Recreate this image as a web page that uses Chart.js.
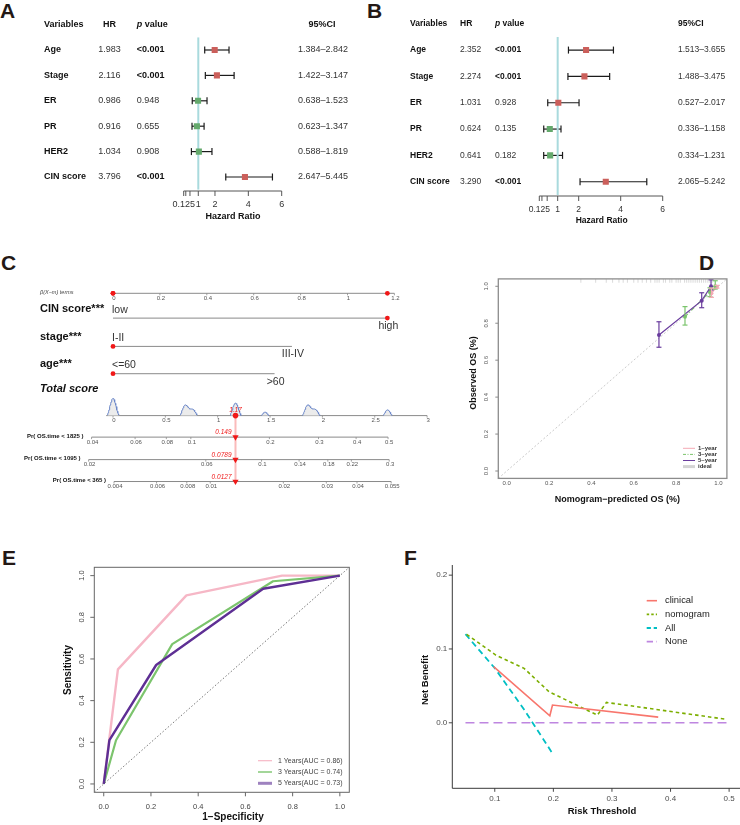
<!DOCTYPE html>
<html>
<head>
<meta charset="utf-8">
<script src="https://cdn.jsdelivr.net/npm/chart.js@4.4.1/dist/chart.umd.min.js"></script>
<style>
  html, body { margin: 0; padding: 0; background: #fff; }
  body { position: relative; width: 740px; height: 825px; overflow: hidden; }
  canvas { position: absolute; }
  .tag { position: absolute; font: bold 21px/21px "Liberation Sans", Arial, sans-serif; color: #231815; }
</style>
</head>
<body>
<div class="tag" style="left:0px;top:0px">A</div>
<div class="tag" style="left:367px;top:0px">B</div>
<div class="tag" style="left:1px;top:252px">C</div>
<div class="tag" style="left:699px;top:252px">D</div>
<div class="tag" style="left:2px;top:547px">E</div>
<div class="tag" style="left:404px;top:547px">F</div>
<canvas id="forestA" width="370" height="235" style="left:0;top:0"></canvas>
<canvas id="forestB" width="370" height="235" style="left:370px;top:0"></canvas>
<canvas id="nomo" width="440" height="230" style="left:0;top:270px"></canvas>
<canvas id="calib" width="300" height="245" style="left:440px;top:270px"></canvas>
<canvas id="roc" width="370" height="285" style="left:0;top:540px"></canvas>
<canvas id="dca" width="375" height="285" style="left:370px;top:540px"></canvas>
<script>
// ---- data: A (univariate Cox) ----
const varsA = ['Age', 'Stage', 'ER', 'PR', 'HER2', 'CIN score'];
const hrA = [1.983, 2.116, 0.986, 0.916, 1.034, 3.796];
const pA = ['<0.001', '<0.001', '0.948', '0.655', '0.908', '<0.001'];
const loA = [1.384, 1.422, 0.638, 0.623, 0.588, 2.647];
const hiA = [2.842, 3.147, 1.523, 1.347, 1.819, 5.445];

// ---- data: B (multivariate Cox) ----
const varsB = ['Age', 'Stage', 'ER', 'PR', 'HER2', 'CIN score'];
const hrB = [2.352, 2.274, 1.031, 0.624, 0.641, 3.290];
const pB = ['<0.001', '<0.001', '0.928', '0.135', '0.182', '<0.001'];
const loB = [1.513, 1.488, 0.527, 0.336, 0.334, 2.065];
const hiB = [3.655, 3.475, 2.017, 1.158, 1.231, 5.242];

const hrTicks = [0.125, 0.25, 0.5, 1, 2, 4, 6];
const hrTickLabels = ['0.125', '', '', '1', '2', '4', '6'];

// ---- data: C (nomogram) ----
const nomoVars = ['CIN score***', 'stage***', 'age***'];
const nomoLevels = [['low', 'high'], ['I-II', 'III-IV'], ['<=60', '>60']];
const nomoBeta = [1.17, 0.763, 0.689];
const nomoPatient = [1, 0, 0];
const betaTicks = [0, 0.2, 0.4, 0.6, 0.8, 1, 1.2];
const scoreTicks = [0, 0.5, 1, 1.5, 2, 2.5, 3];
const comboCounts = [18, 14, 8, 8, 12, 12, 6, 8]; // patients per level combination (bit0 CIN, bit1 stage, bit2 age)
const survDays = [1825, 1095, 365];
const baseHaz = [0.0501, 0.0255, 0.00397];
const probTicks = [
  [0.04, 0.06, 0.08, 0.1, 0.2, 0.3, 0.4, 0.5],
  [0.02, 0.06, 0.1, 0.14, 0.18, 0.22, 0.3],
  [0.004, 0.006, 0.008, 0.01, 0.02, 0.03, 0.04, 0.055]
];

// ---- data: D (calibration) ----
const calLabels = ['1\u2013year', '3\u2013year', '5\u2013year'];
const calPred1 = [0.967, 0.993], calObs1 = [0.962, 0.998], calLo1 = [0.94, 0.99], calHi1 = [0.99, 1.005];
const calPred3 = [0.842, 0.960, 0.985], calObs3 = [0.835, 0.971, 1.0], calLo3 = [0.79, 0.944, 0.985], calHi3 = [0.89, 0.992, 1.03];
const calPred5 = [0.719, 0.921, 0.965], calObs5 = [0.736, 0.922, 1.0], calLo5 = [0.670, 0.884, 0.98], calHi5 = [0.808, 0.965, 1.035];
const predRug = [0.35, 0.42, 0.47, 0.5, 0.53, 0.55, 0.57, 0.6, 0.62, 0.64, 0.66, 0.68, 0.7, 0.71, 0.72, 0.74, 0.75,
  0.77, 0.78, 0.8, 0.81, 0.82, 0.84, 0.85, 0.86, 0.87, 0.88, 0.89, 0.9, 0.91, 0.92, 0.93, 0.94, 0.95, 0.96, 0.97];
const calTicks = [0, 0.2, 0.4, 0.6, 0.8, 1];

// ---- data: E (time-dependent ROC) ----
const rocYears = [1, 3, 5];
const rocAuc = [0.86, 0.74, 0.73];
const fpr1 = [0, 0.06, 0.35, 0.755, 1], tpr1 = [0, 0.55, 0.905, 1, 1];
const fpr3 = [0, 0.052, 0.29, 0.717, 1], tpr3 = [0, 0.21, 0.671, 0.973, 1];
const fpr5 = [0, 0.024, 0.222, 0.675, 1], tpr5 = [0, 0.21, 0.571, 0.937, 1];

// ---- data: F (decision curve) ----
const dcaNames = ['clinical', 'nomogram', 'All', 'None'];
const clinX = [0.098, 0.194, 0.1985, 0.379], clinY = [0.076, 0.0095, 0.024, 0.0077];
const nomoX = [0.052, 0.1017, 0.15, 0.1927, 0.2752, 0.2906, 0.4925], nomoY = [0.1198, 0.0917, 0.0737, 0.042, 0.0104, 0.0276, 0.005];
const allX = [0.05, 0.1, 0.15, 0.1985], allY = [0.12, 0.074, 0.018, -0.0415];
const noneX = [0.05, 0.5], noneY = [0, 0];
const dcaXTicks = [0.1, 0.2, 0.3, 0.4, 0.5];
const dcaYTicks = [0, 0.1, 0.2];

// ---------------------------------------------------------------
const FONT = '"Liberation Sans", Arial, Helvetica, sans-serif';
Chart.defaults.font.family = FONT;
Chart.defaults.animation = false;
Chart.defaults.responsive = false;
Chart.defaults.maintainAspectRatio = false;
Chart.defaults.events = [];
Chart.defaults.plugins.legend.display = false;
Chart.defaults.plugins.tooltip.enabled = false;

const RED = '#CB5F5B', GREEN = '#64A96C';

function xy(xs, ys) { return xs.map((v, i) => ({ x: v, y: ys[i] })); }

function put(ctx, s, x, y, font, color, align, rot) {
  ctx.save();
  ctx.font = font;
  ctx.fillStyle = color || '#222';
  ctx.textAlign = align || 'left';
  ctx.textBaseline = 'middle';
  ctx.translate(x, y);
  if (rot) ctx.rotate(rot);
  ctx.fillText(s, 0, 0);
  ctx.restore();
}

function seg(ctx, x1, y1, x2, y2, color, w, dash) {
  ctx.save();
  ctx.strokeStyle = color; ctx.lineWidth = w || 1;
  ctx.setLineDash(dash || []);
  ctx.beginPath(); ctx.moveTo(x1, y1); ctx.lineTo(x2, y2); ctx.stroke();
  ctx.restore();
}

// ---------- A / B forest plots ----------
function forestChart(id, d, L) {
  const n = d.vars.length;
  return new Chart(document.getElementById(id), {
    type: 'scatter',
    data: { datasets: [
      { data: xy(d.hr, d.vars.map((v, i) => i)), pointStyle: 'rect', pointRadius: L.box,
        pointBackgroundColor: d.colors, pointBorderWidth: 0 },
      { type: 'line', data: [{ x: 1, y: -0.5 }, { x: 1, y: n - 0.5 }],
        borderColor: '#A9DADD', borderWidth: 2, pointRadius: 0 }
    ]},
    options: {
      layout: { padding: L.pad },
      scales: {
        x: { type: 'linear', min: hrTicks[0], max: hrTicks[hrTicks.length - 1], display: false },
        y: { type: 'linear', min: -0.5, max: n - 0.5, reverse: true, display: false }
      }
    },
    plugins: [{
      id: 'forestParts',
      beforeDatasetsDraw(chart) {
        const { ctx, scales: { x, y } } = chart;
        d.lo.forEach((lo, i) => {
          const x1 = x.getPixelForValue(lo), x2 = x.getPixelForValue(d.hi[i]), py = y.getPixelForValue(i);
          seg(ctx, x1, py, x2, py, '#1b1b1b', 1.2);
          seg(ctx, x1, py - 3.5, x1, py + 3.5, '#1b1b1b', 1.2);
          seg(ctx, x2, py - 3.5, x2, py + 3.5, '#1b1b1b', 1.2);
        });
      },
      afterDraw(chart) {
        const { ctx, chartArea: a, scales: { x, y } } = chart;
        const fs = L.fs, b = `bold ${fs}px ${FONT}`, r = `${fs}px ${FONT}`;
        // header
        put(ctx, 'Variables', L.cVar, L.headY, b, '#111');
        put(ctx, 'HR', L.cHR, L.headY, b, '#111', L.hrAlign);
        ctx.save();
        ctx.font = `italic bold ${fs}px ${FONT}`;
        const pw = ctx.measureText('p').width;
        ctx.restore();
        put(ctx, 'p', L.cP, L.headY, `italic bold ${fs}px ${FONT}`, '#111');
        put(ctx, ' value', L.cP + pw, L.headY, b, '#111');
        put(ctx, '95%CI', L.cCIHead, L.headY, b, '#111', L.ciAlign);
        // rows
        d.vars.forEach((v, i) => {
          const py = y.getPixelForValue(i);
          put(ctx, v, L.cVar, py, b, '#111');
          put(ctx, d.hr[i].toFixed(3), L.cHR, py, r, '#333', L.hrAlign);
          put(ctx, d.p[i], L.cP, py, d.p[i][0] === '<' ? b : r, d.p[i][0] === '<' ? '#111' : '#333');
          put(ctx, d.lo[i].toFixed(3) + '\u2013' + d.hi[i].toFixed(3), L.cCI, py, r, '#333', L.ciAlign);
        });
        // hazard ratio axis
        const ay = L.axisY;
        seg(ctx, x.getPixelForValue(hrTicks[0]), ay, x.getPixelForValue(hrTicks[hrTicks.length - 1]), ay, '#555', 1);
        hrTicks.forEach((t, i) => {
          const px = x.getPixelForValue(t);
          seg(ctx, px, ay, px, ay + 5, '#555', 1);
          if (hrTickLabels[i]) put(ctx, hrTickLabels[i], px, L.tickY, r, '#333', 'center');
        });
        put(ctx, 'Hazard Ratio', L.titleX, L.titleY, b, '#111', 'center');
      }
    }]
  });
}

forestChart('forestA',
  { vars: varsA, hr: hrA, p: pA, lo: loA, hi: hiA, colors: [RED, RED, GREEN, GREEN, GREEN, RED] },
  { pad: { left: 183.7, right: 88.3, top: 37.3, bottom: 45.3 }, box: 4.3, fs: 9,
    headY: 25, cVar: 44, cHR: 109.5, hrAlign: 'center', cP: 136.7, cCIHead: 322, cCI: 323, ciAlign: 'center',
    axisY: 191, tickY: 205, titleX: 233, titleY: 217 });

forestChart('forestB',
  { vars: varsB, hr: hrB, p: pB, lo: loB, hi: hiB, colors: [RED, RED, RED, GREEN, GREEN, RED] },
  { pad: { left: 169.3, right: 77.3, top: 36.9, bottom: 40.1 }, box: 4.3, fs: 8.5,
    headY: 24, cVar: 40, cHR: 90, hrAlign: 'left', cP: 125, cCIHead: 308, cCI: 308, ciAlign: 'left',
    axisY: 196, tickY: 210, titleX: 231.7, titleY: 221 });

// ---------- C nomogram ----------
const NOMO = { w: 440, px0: 113, betaPx: 234.5, scorePx: 104.7, left: 85, right: 432, labelX: 40,
  rowBeta: 20, rowVar: [45.7, 75, 103.3], rowScore: 146.7, rowProb: [169, 192.3, 215] };

const scoreForProb = (p, k) => Math.log(-Math.log(1 - p) / baseHaz[k]);
const probForScore = (s, k) => 1 - Math.exp(-baseHaz[k] * Math.exp(s));
const patientContrib = nomoBeta.map((b, j) => b * nomoPatient[j]);
const patientScore = patientContrib.reduce((s, v) => s + v, 0);

const comboScores = comboCounts.map((c, m) => nomoBeta.reduce((s, b, j) => s + ((m >> j) & 1 ? b : 0), 0));
const kdeBw = 0.03, kdeCut = 3, kdeScale = 1.18;
const densityPts = [];
for (let s = -0.15; s <= 2.9; s += 0.004) {
  let dd = 0;
  comboScores.forEach((c, i) => { dd += comboCounts[i] * Math.exp(-((s - c) ** 2) / (2 * kdeBw * kdeBw)); });
  densityPts.push({ x: s, y: dd > kdeCut ? NOMO.rowScore - kdeScale * (dd - kdeCut) : null });
}

const nomoDatasets = [
  { type: 'line', xAxisID: 'x2', data: NOMO.rowProb.map(r => ({ x: patientScore, y: r })),
    showLine: false, pointStyle: 'triangle', rotation: 180, pointRadius: 3.6, pointBackgroundColor: '#F01818', pointBorderWidth: 0 },
  { type: 'line', xAxisID: 'x2', data: [{ x: patientScore, y: NOMO.rowScore }], showLine: false,
    pointRadius: 2.8, pointBackgroundColor: '#F01818', pointBorderWidth: 0 },
  { type: 'line', xAxisID: 'x', data: [
      ...patientContrib.map(c => ({ x: c, y: NOMO.rowBeta })),
      ...nomoPatient.map((lv, j) => ({ x: lv * nomoBeta[j], y: NOMO.rowVar[j] }))],
    showLine: false, pointRadius: 2.4, pointBackgroundColor: '#F01818', pointBorderWidth: 0 },
  { type: 'line', xAxisID: 'x2', data: [{ x: patientScore, y: NOMO.rowScore }, { x: patientScore, y: NOMO.rowProb[2] }],
    borderColor: 'rgba(240,60,60,0.35)', borderWidth: 2, pointRadius: 0 },
  { type: 'line', xAxisID: 'x2', data: densityPts, borderColor: '#6A86C8', borderWidth: 1,
    backgroundColor: '#ECECEC', fill: { value: NOMO.rowScore }, pointRadius: 0, spanGaps: false }
];
nomoBeta.forEach((b, j) => nomoDatasets.push({ type: 'line', xAxisID: 'x',
  data: [{ x: 0, y: NOMO.rowVar[j] }, { x: b, y: NOMO.rowVar[j] }], borderColor: '#8a8a8a', borderWidth: 1, pointRadius: 0 }));

new Chart(document.getElementById('nomo'), {
  type: 'scatter',
  data: { datasets: nomoDatasets },
  options: {
    layout: { padding: { left: NOMO.left, right: NOMO.w - NOMO.right, top: 0, bottom: 0 } },
    scales: {
      x: { type: 'linear', display: false, min: (NOMO.left - NOMO.px0) / NOMO.betaPx, max: (NOMO.right - NOMO.px0) / NOMO.betaPx },
      x2: { type: 'linear', display: false, min: (NOMO.left - NOMO.px0) / NOMO.scorePx, max: (NOMO.right - NOMO.px0) / NOMO.scorePx },
      y: { type: 'linear', display: false, min: 0, max: 230, reverse: true }
    }
  },
  plugins: [{
    id: 'nomoAxes',
    beforeDatasetsDraw(chart) {
      const { ctx, scales: { x, x2, y } } = chart;
      const tick = `6px ${FONT}`, grey = '#8a8a8a';
      const yb = y.getPixelForValue(NOMO.rowBeta);
      put(ctx, '\u03b2(X\u2212m) terms', NOMO.labelX, yb - 1, `italic 5.5px ${FONT}`, '#444');
      seg(ctx, x.getPixelForValue(0), yb, x.getPixelForValue(betaTicks[betaTicks.length - 1]), yb, grey, 1);
      betaTicks.forEach(t => {
        const px = x.getPixelForValue(t);
        seg(ctx, px, yb, px, yb + 2, grey, 0.8);
        put(ctx, String(t), px + 1, yb + 5, tick, '#555', 'center');
      });
      nomoVars.forEach((v, j) => {
        const py = y.getPixelForValue(NOMO.rowVar[j]);
        put(ctx, v, NOMO.labelX, py - 9.5, `bold 11px ${FONT}`, '#111');
        put(ctx, nomoLevels[j][0], x.getPixelForValue(0) - 1, py - 8.5, `10.5px ${FONT}`, '#333');
        put(ctx, nomoLevels[j][1], x.getPixelForValue(nomoBeta[j]) + 1, py + 8, `10.5px ${FONT}`, '#333', 'center');
      });
      const ys = y.getPixelForValue(NOMO.rowScore);
      put(ctx, 'Total score', NOMO.labelX, y.getPixelForValue(119), `italic bold 11px ${FONT}`, '#111');
      seg(ctx, x2.getPixelForValue(-0.065), ys, x2.getPixelForValue(scoreTicks[scoreTicks.length - 1]), ys, grey, 1);
      scoreTicks.forEach(t => {
        const px = x2.getPixelForValue(t);
        seg(ctx, px, ys, px, ys + 2, grey, 0.8);
        put(ctx, String(t), px + 1, ys + 5, tick, '#555', 'center');
      });
      survDays.forEach((d, k) => {
        const py = y.getPixelForValue(NOMO.rowProb[k]);
        const t0 = probTicks[k][0], t1 = probTicks[k][probTicks[k].length - 1];
        const x0 = x2.getPixelForValue(scoreForProb(t0, k));
        seg(ctx, x0, py, x2.getPixelForValue(scoreForProb(t1, k)), py, grey, 1);
        probTicks[k].forEach(t => {
          const px = x2.getPixelForValue(scoreForProb(t, k));
          seg(ctx, px, py, px, py + 2, grey, 0.8);
          put(ctx, String(t), px + 1, py + 5, tick, '#555', 'center');
        });
        put(ctx, 'Pr( OS.time < ' + d + ' )', x0 - 8, py - 1, `bold 6px ${FONT}`, '#111', 'right');
      });
    },
    afterDatasetsDraw(chart) {
      const { ctx, scales: { x2, y } } = chart;
      const px = x2.getPixelForValue(patientScore);
      put(ctx, patientScore.toFixed(2), px, y.getPixelForValue(NOMO.rowScore) - 5, `italic 6.5px ${FONT}`, '#F01818', 'center');
      survDays.forEach((d, k) => {
        const p = probForScore(patientScore, k);
        put(ctx, p.toPrecision(3), px - 4, y.getPixelForValue(NOMO.rowProb[k]) - 4.5, `italic 6.5px ${FONT}`, '#F01818', 'right');
      });
    }
  }]
});

// ---------- D calibration ----------
const PINK = '#F4A9B5', LGREEN = '#7BC46C', PURPLE = '#6A3D9E';
const calSeries = [
  { pred: calPred5, obs: calObs5, lo: calLo5, hi: calHi5, color: PURPLE, dash: [], w: 1.2 },
  { pred: calPred3, obs: calObs3, lo: calLo3, hi: calHi3, color: LGREEN, dash: [4, 2, 1, 2], w: 1.2 },
  { pred: calPred1, obs: calObs1, lo: calLo1, hi: calHi1, color: PINK, dash: [], w: 1.2 }
];
new Chart(document.getElementById('calib'), {
  type: 'scatter',
  data: { datasets: [
    ...calSeries.map(s => ({ type: 'line', data: xy(s.pred, s.obs), borderColor: s.color, borderWidth: s.w,
      borderDash: s.dash, pointRadius: 2, pointBackgroundColor: s.color, pointBorderWidth: 0 })),
    { data: predRug.map(v => ({ x: v, y: 1.03 })), pointStyle: 'line', rotation: 90, pointRadius: 2,
      pointBorderColor: 'rgba(150,150,150,0.45)', pointBorderWidth: 0.8 },
    { type: 'line', data: [{ x: -0.04, y: -0.04 }, { x: 1.04, y: 1.04 }], borderColor: '#C4C4C4',
      borderWidth: 0.9, borderDash: [2, 2], pointRadius: 0 }
  ]},
  options: {
    layout: { padding: { left: 58.3, right: 13.1, top: 8.9, bottom: 36.6 } },
    scales: {
      x: { type: 'linear', min: -0.04, max: 1.04, display: false },
      y: { type: 'linear', min: -0.04, max: 1.04, display: false }
    }
  },
  plugins: [{
    id: 'calibParts',
    afterDatasetsDraw(chart) {
      const { ctx, chartArea: a, scales: { x, y } } = chart;
      calSeries.forEach(s => s.pred.forEach((p, i) => {
        const px = x.getPixelForValue(p), y1 = y.getPixelForValue(s.lo[i]), y2 = y.getPixelForValue(s.hi[i]);
        seg(ctx, px, y1, px, y2, s.color, 1.2);
        seg(ctx, px - 2.5, y1, px + 2.5, y1, s.color, 1.2);
        seg(ctx, px - 2.5, y2, px + 2.5, y2, s.color, 1.2);
      }));
      ctx.save();
      ctx.strokeStyle = '#8c8c8c'; ctx.lineWidth = 1.3;
      ctx.strokeRect(a.left, a.top, a.right - a.left, a.bottom - a.top);
      ctx.restore();
      const tf = `6px ${FONT}`;
      calTicks.forEach(t => {
        const px = x.getPixelForValue(t), py = y.getPixelForValue(t);
        put(ctx, t.toFixed(1), px, a.bottom + 4.5, tf, '#555', 'center');
        seg(ctx, a.left, py, a.left - 3, py, '#8c8c8c', 1);
        put(ctx, t.toFixed(1), a.left - 11.6, py, tf, '#555', 'center', -Math.PI / 2);
      });
      put(ctx, 'Nomogram\u2212predicted OS (%)', 177.3, 230, `bold 9px ${FONT}`, '#111', 'center');
      put(ctx, 'Observed OS (%)', 34, 103, `bold 9px ${FONT}`, '#111', 'center', -Math.PI / 2);
      const leg = [
        { t: calLabels[0], c: PINK, d: [], w: 1 },
        { t: calLabels[1], c: LGREEN, d: [3, 1.5, 1, 1.5], w: 1 },
        { t: calLabels[2], c: PURPLE, d: [], w: 1 },
        { t: 'ideal', c: '#D4D4D4', d: [], w: 3 }
      ];
      leg.forEach((e, i) => {
        const py = 178.3 + i * 6.1;
        seg(ctx, 243, py, 255, py, e.c, e.w, e.d);
        put(ctx, e.t, 258, py, `bold 6px ${FONT}`, '#333');
      });
    }
  }]
});

// ---------- E ROC ----------
const ROC_PINK = '#F6B7C6', ROC_GREEN = '#7CC46D', ROC_PURPLE = '#5E2F94';
const rocSeries = [
  { fpr: fpr1, tpr: tpr1, color: ROC_PINK, w: 2.4 },
  { fpr: fpr3, tpr: tpr3, color: ROC_GREEN, w: 2.2 },
  { fpr: fpr5, tpr: tpr5, color: ROC_PURPLE, w: 2.4 }
];
new Chart(document.getElementById('roc'), {
  type: 'scatter',
  data: { datasets: [
    ...rocSeries.slice().reverse().map(s => ({ type: 'line', data: xy(s.fpr, s.tpr), borderColor: s.color,
      borderWidth: s.w, pointRadius: 0, borderJoinStyle: 'round' })),
    { type: 'line', data: [{ x: -0.04, y: -0.04 }, { x: 1.04, y: 1.04 }], borderColor: '#555',
      borderWidth: 0.8, borderDash: [1.5, 2], pointRadius: 0 }
  ]},
  options: {
    layout: { padding: { left: 94.3, right: 20.7, top: 27.3, bottom: 32.7 } },
    scales: {
      x: { type: 'linear', min: -0.04, max: 1.04, display: false },
      y: { type: 'linear', min: -0.04, max: 1.04, display: false }
    }
  },
  plugins: [{
    id: 'rocParts',
    afterDraw(chart) {
      const { ctx, chartArea: a, scales: { x, y } } = chart;
      ctx.save();
      ctx.strokeStyle = '#666'; ctx.lineWidth = 1;
      ctx.strokeRect(a.left, a.top, a.right - a.left, a.bottom - a.top);
      ctx.restore();
      const tf = `7.5px ${FONT}`;
      calTicks.forEach(t => {
        const px = x.getPixelForValue(t), py = y.getPixelForValue(t);
        seg(ctx, px, a.bottom, px, a.bottom + 4, '#666', 1);
        put(ctx, t.toFixed(1), px, a.bottom + 14.4, tf, '#444', 'center');
        seg(ctx, a.left, py, a.left - 4, py, '#666', 1);
        put(ctx, t.toFixed(1), a.left - 12.6, py, tf, '#444', 'center', -Math.PI / 2);
      });
      put(ctx, '1\u2212Specificity', 233, 277.3, `bold 10px ${FONT}`, '#111', 'center');
      put(ctx, 'Sensitivity', 68.3, 130, `bold 10px ${FONT}`, '#111', 'center', -Math.PI / 2);
      const legW = [1.2, 1.4, 3];
      rocSeries.forEach((s, i) => {
        const py = 220.7 + i * 11.3;
        ctx.save(); ctx.globalAlpha = i === 2 ? 0.6 : 1;
        seg(ctx, 258, py, 272, py, s.color, legW[i]);
        ctx.restore();
        put(ctx, rocYears[i] + ' Years(AUC = ' + rocAuc[i].toFixed(2) + ')', 278, py, `7px ${FONT}`, '#444');
      });
    }
  }]
});

// ---------- F decision curve ----------
const dcaSeries = [
  { x: clinX, y: clinY, color: '#F8766D', dash: [], w: 1.6 },
  { x: nomoX, y: nomoY, color: '#7CAE00', dash: [3.5, 3], w: 1.6 },
  { x: allX, y: allY, color: '#00BFC4', dash: [6, 4], w: 1.8 },
  { x: noneX, y: noneY, color: '#BE86E0', dash: [9, 5], w: 1.6 }
];
new Chart(document.getElementById('dca'), {
  type: 'scatter',
  data: { datasets: dcaSeries.map(s => ({ type: 'line', data: xy(s.x, s.y), borderColor: s.color,
    borderWidth: s.w, borderDash: s.dash, pointRadius: 0 })) },
  options: {
    layout: { padding: { left: 82.3, right: 2.7, top: 25, bottom: 36.7 } },
    scales: {
      x: { type: 'linear', min: 0.0275, max: 0.5225, display: false },
      y: { type: 'linear', min: -0.08875, max: 0.21375, display: false }
    }
  },
  plugins: [{
    id: 'dcaParts',
    afterDraw(chart) {
      const { ctx, chartArea: a, scales: { x, y } } = chart;
      seg(ctx, a.left, a.top, a.left, a.bottom, '#222', 0.9);
      seg(ctx, a.left, a.bottom, a.right, a.bottom, '#222', 0.9);
      const tf = `8px ${FONT}`;
      dcaXTicks.forEach(t => {
        const px = x.getPixelForValue(t);
        seg(ctx, px, a.bottom, px, a.bottom + 3.5, '#333', 0.9);
        put(ctx, t.toFixed(1), px, a.bottom + 10.7, tf, '#4D4D4D', 'center');
      });
      dcaYTicks.forEach(t => {
        const py = y.getPixelForValue(t);
        seg(ctx, a.left, py, a.left - 3.5, py, '#333', 0.9);
        put(ctx, t.toFixed(1), a.left - 5, py, tf, '#4D4D4D', 'right');
      });
      put(ctx, 'Risk Threshold', 232, 271.7, `bold 9.5px ${FONT}`, '#111', 'center');
      put(ctx, 'Net Benefit', 55, 140, `bold 9.5px ${FONT}`, '#111', 'center', -Math.PI / 2);
      dcaSeries.forEach((s, i) => {
        const py = 60.7 + i * 13.65;
        seg(ctx, 276.7, py, 287, py, s.color, s.w, s.dash.map(v => v * 0.7));
        put(ctx, dcaNames[i], 295, py, `9.4px ${FONT}`, '#222');
      });
    }
  }]
});
</script>
</body>
</html>
